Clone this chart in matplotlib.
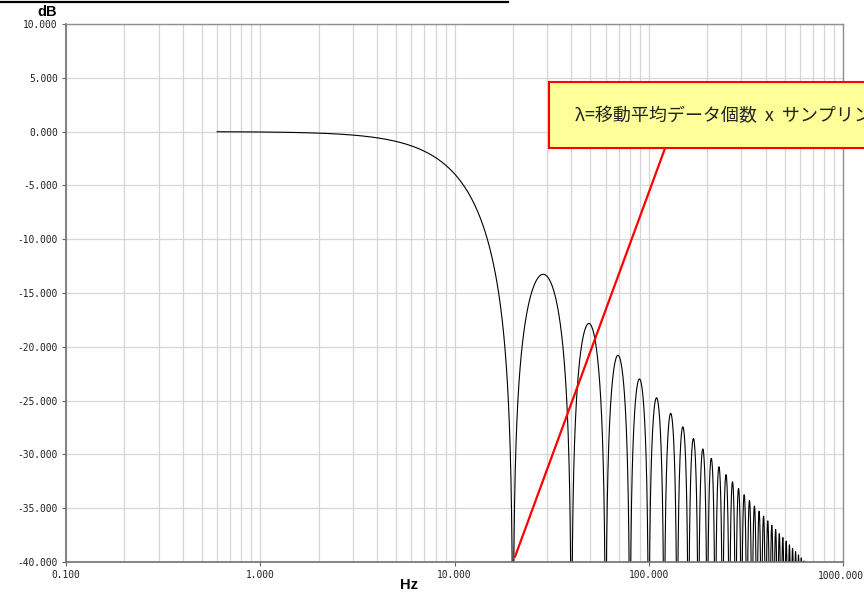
import numpy as np
import matplotlib.pyplot as plt
from matplotlib.ticker import FixedLocator, LogLocator, NullFormatter
from matplotlib.patches import Rectangle
from matplotlib.lines import Line2D

plt.rcParams['font.family'] = ['Noto Sans CJK JP', 'DejaVu Sans']

# --- moving average filter ---
first_null_hz = 20.0      # nulls at 20, 40, 60 ... Hz
f_start_hz = 0.6          # curve starts here
f_end_hz = 640.0          # sidelobes fall below -40 dB here

x_ticks = [0.1, 1, 10, 100, 1000]
x_tick_labels = ["0.100", "1.000", "10.000", "100.000", "1000.000"]
y_ticks = [10, 5, 0, -5, -10, -15, -20, -25, -30, -35, -40]
y_tick_labels = ["10.000", "5.000", "0.000", "-5.000", "-10.000", "-15.000",
                 "-20.000", "-25.000", "-30.000", "-35.000", "-40.000"]

note_text = "λ=移動平均データ個数  x  サンプリング周期"
pointer_from = (121.0, -1.6)    # bottom edge of the note box
pointer_to = (20.5, -39.5)      # first null

# --- frequency response ---
f = np.arange(f_start_hz, f_end_hz, 0.02)
u = np.pi * f / first_null_hz
mag = np.abs(np.sin(u) / u)
db = 20 * np.log10(np.maximum(mag, 1e-6))

fig = plt.figure(figsize=(8.64, 5.92), dpi=100)
ax = fig.add_axes([66 / 864, 30 / 592, 777 / 864, 538 / 592])

ax.plot(f, db, color="black", lw=0.8)

ax.set_xscale("log")
ax.set_xlim(0.1, 1000)
ax.set_ylim(-40, 10)

tick_font = dict(family="DejaVu Sans Mono", fontsize=6.9, color="#222222")

# last x label is drawn by hand so it stays inside the figure edge
ax.xaxis.set_major_locator(FixedLocator(x_ticks))
ax.set_xticklabels(x_tick_labels[:-1] + [""])
ax.text(0.997, -9 / 538, x_tick_labels[-1], transform=ax.transAxes,
        ha="center", va="top", **tick_font)
ax.xaxis.set_minor_locator(LogLocator(base=10, subs=np.arange(2, 10)))
ax.xaxis.set_minor_formatter(NullFormatter())
ax.yaxis.set_major_locator(FixedLocator(y_ticks))
ax.set_yticklabels(y_tick_labels)

for lab in ax.get_xticklabels() + ax.get_yticklabels():
    lab.set_family(tick_font["family"])
    lab.set_fontsize(tick_font["fontsize"])
    lab.set_color(tick_font["color"])

ax.tick_params(which="major", length=3, width=0.8, color="#666666", pad=3)
ax.tick_params(which="minor", length=0)
ax.grid(True, which="both", axis="x", color="#d6d6d6", lw=0.9)
ax.grid(True, which="major", axis="y", color="#d6d6d6", lw=0.9)
ax.set_axisbelow(True)

for side in ["left", "bottom"]:
    ax.spines[side].set_color("#707070")
    ax.spines[side].set_linewidth(1.2)
for side in ["top", "right"]:
    ax.spines[side].set_color("#909090")
    ax.spines[side].set_linewidth(1.0)

fig.text(47 / 864, 1 - 12 / 592, "dB", ha="center", va="center",
         fontsize=10.5, fontweight="bold", family="Liberation Sans")
fig.text(409 / 864, 1 - 585 / 592, "Hz", ha="center", va="center",
         fontsize=10.5, fontweight="bold", family="Liberation Sans")

# cut-off title underline at the top
fig.add_artist(Line2D([0, 508 / 864], [1 - 2 / 592, 1 - 2 / 592],
                      color="black", lw=1.6, transform=fig.transFigure))

# pointer line and note box (the note runs off the right edge, as in the source)
ax.plot([pointer_from[0], pointer_to[0]], [pointer_from[1], pointer_to[1]],
        color="red", lw=1.6, clip_on=False, zorder=5)
box = Rectangle((549 / 864, 1 - 148 / 592), 0.5, 66 / 592,
                transform=fig.transFigure, facecolor="#ffff99",
                edgecolor="red", lw=1.5, zorder=6)
fig.add_artist(box)
fig.text(575 / 864, 1 - 116 / 592, note_text, ha="left", va="center",
         fontsize=13, color="#222222", zorder=7)

fig.savefig("out.png", dpi=100)
